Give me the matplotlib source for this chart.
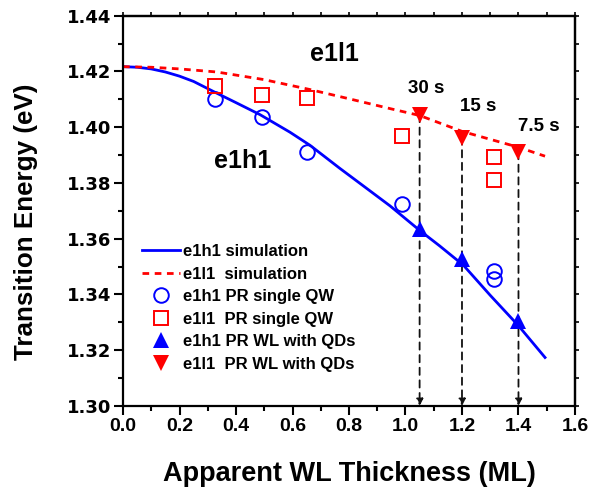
import matplotlib
matplotlib.use("Agg")
import matplotlib.pyplot as plt
from matplotlib.ticker import MultipleLocator, FormatStrFormatter

plt.rcParams['font.family'] = ['Liberation Sans', 'DejaVu Sans']
plt.rcParams['font.weight'] = 'bold'

# Simulation curves
sim_e1h1_x = [0.0, 0.05, 0.1, 0.15, 0.2, 0.25, 0.326, 0.4, 0.485, 0.591, 0.662, 0.768, 0.85, 0.945,
              1.05, 1.12, 1.205, 1.30, 1.40, 1.494]
sim_e1h1_y = [1.4217, 1.4215, 1.4209, 1.4198, 1.4183, 1.4164, 1.4125, 1.4088, 1.4045, 1.3982, 1.3935,
              1.3852, 1.3790, 1.3718, 1.3630, 1.3575, 1.3505, 1.3397, 1.3288, 1.3174]
sim_e1l1_x = [0.0, 0.1, 0.2, 0.332, 0.497, 0.662, 0.8, 0.948, 1.05, 1.2, 1.4, 1.494]
sim_e1l1_y = [1.4217, 1.4215, 1.4209, 1.4198, 1.4171, 1.4135, 1.4102, 1.4066, 1.4042, 1.3985, 1.3928, 1.3896]

# PR single QW
qw_x = [0.326, 0.492, 0.651, 0.988, 1.313, 1.313]
qw_e1h1 = [1.4100, 1.4038, 1.3910, 1.3723, 1.3483, 1.3455]
qw_e1l1 = [1.4149, 1.4117, 1.4106, 1.3967, 1.3892, 1.3810]

# PR WL with QDs
wl_x = [1.05, 1.2, 1.4]
wl_e1h1 = [1.3636, 1.3526, 1.3305]
wl_e1l1 = [1.4044, 1.3963, 1.3911]
wl_labels = ['30 s', '15 s', '7.5 s']
wl_label_x = [1.072, 1.257, 1.473]
wl_label_y = [1.4139, 1.4075, 1.4004]

x_ticks = [0.0, 0.2, 0.4, 0.6, 0.8, 1.0, 1.2, 1.4, 1.6]
y_ticks = [1.30, 1.32, 1.34, 1.36, 1.38, 1.40, 1.42, 1.44]

fig = plt.figure(figsize=(6.01, 4.91), dpi=100)
ax = fig.add_axes([0.2047, 0.1731, 0.752, 0.795])

blue = '#0000FF'
red = '#FF0000'

ax.plot(sim_e1h1_x, sim_e1h1_y, '-', color=blue, lw=2.0, label='e1h1 simulation')
ax.plot(sim_e1l1_x, sim_e1l1_y, '--', color=red, lw=2.0, dashes=(2.4, 2.0), label='e1l1  simulation')
ax.plot(qw_x, qw_e1h1, 'o', mfc='none', mec=blue, ms=10.5, mew=1.4, label='e1h1 PR single QW')
ax.plot(qw_x, qw_e1l1, 's', mfc='none', mec=red, ms=9.5, mew=1.4, label='e1l1  PR single QW')

# vertical dashed arrows
for x, y in zip(wl_x, wl_e1l1):
    ax.annotate('', xy=(x, 1.300), xytext=(x, y),
                arrowprops=dict(arrowstyle='-|>', color='#111111', lw=1.3,
                                linestyle=(0, (4, 3)), mutation_scale=10,
                                shrinkA=0, shrinkB=0))

ax.plot(wl_x, wl_e1h1, '^', color=blue, ms=12, mew=0, label='e1h1 PR WL with QDs', zorder=5)
ax.plot(wl_x, wl_e1l1, 'v', color=red, ms=12, mew=0, label='e1l1  PR WL with QDs', zorder=5)

for t, x, y in zip(wl_labels, wl_label_x, wl_label_y):
    ax.text(x, y, t, fontsize=13.5, fontweight='bold', ha='center', va='center')

ax.text(0.747, 1.4262, 'e1l1', fontsize=18, fontweight='bold', ha='center', va='center')
ax.text(0.425, 1.3879, 'e1h1', fontsize=18, fontweight='bold', ha='center', va='center')

ax.set_xlim(0.0, 1.6)
ax.set_ylim(1.30, 1.44)
ax.set_xticks(x_ticks)
ax.set_yticks(y_ticks)
ax.xaxis.set_minor_locator(MultipleLocator(0.1))
ax.yaxis.set_minor_locator(MultipleLocator(0.01))
ax.xaxis.set_major_formatter(FormatStrFormatter('%.1f'))
ax.yaxis.set_major_formatter(FormatStrFormatter('%.2f'))

for s in ax.spines.values():
    s.set_linewidth(1.6)

ax.tick_params(which='major', direction='out', length=6.5, width=1.5, pad=2)
ax.tick_params(which='minor', direction='out', length=3.5, width=1.5)
ax.tick_params(axis='x', which='major', labelsize=14)
ax.tick_params(axis='y', which='major', labelsize=13)
for lab in ax.get_xticklabels():
    lab.set_fontweight('bold')
for lab in ax.get_yticklabels():
    lab.set_fontweight('bold')
    lab.set_family('DejaVu Sans')

secx = ax.secondary_xaxis('top')
secx.xaxis.set_major_locator(MultipleLocator(0.1))
secx.tick_params(direction='out', length=3, width=1.2, labeltop=False)
secx.spines['top'].set_linewidth(1.6)
secy = ax.secondary_yaxis('right')
secy.yaxis.set_major_locator(MultipleLocator(0.01))
secy.tick_params(direction='out', length=3, width=1.2, labelright=False)
secy.spines['right'].set_linewidth(1.6)

ax.set_xlabel('Apparent WL Thickness (ML)', fontsize=19.5, fontweight='bold')
ax.set_ylabel('Transition Energy (eV)', fontsize=18.7, fontweight='bold')
ax.xaxis.set_label_coords(0.5, -0.174)
ax.yaxis.set_label_coords(-0.215, 0.472)
ax.xaxis.label.set_va('center')
ax.yaxis.label.set_va('center')

leg = ax.legend(loc='upper left', bbox_to_anchor=(0.041, 0.415), frameon=False,
                prop={'size': 12, 'weight': 'bold'}, handlelength=2.3,
                handletextpad=0.2, labelspacing=0.45, borderpad=0, borderaxespad=0)

fig.savefig('out.png', dpi=100)
